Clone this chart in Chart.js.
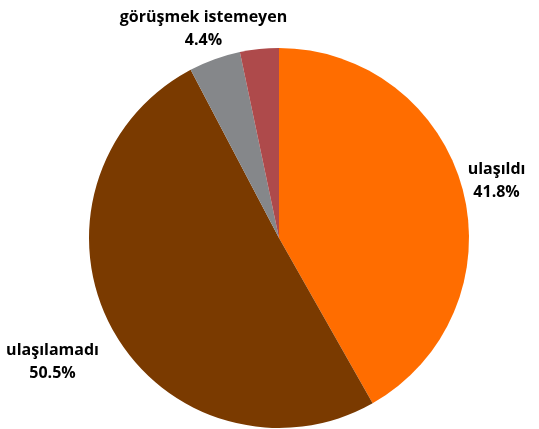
<!DOCTYPE html>
<html>
<head>
<meta charset="utf-8">
<script src="https://cdn.jsdelivr.net/npm/chart.js@4"></script>
<style>
  html, body { margin: 0; padding: 0; background: #fff; }
  #wrap { width: 539px; height: 429px; }
</style>
</head>
<body>
<div id="wrap"><canvas id="pasta" width="539" height="429"></canvas></div>
<script>
const labels = ["ulaşıldı", "ulaşılamadı", "görüşmek istemeyen", ""];
const values = [41.8, 50.5, 4.4, 3.3];
const colors = ["#ff6d00", "#7a3a00", "#85878a", "#ae4a4b"];

// etiketleri dilimin dışına yaz (boş etiketler atlanır)
const outsideLabels = {
  id: "outsideLabels",
  afterDatasetsDraw(chart, args, opts) {
    const ctx = chart.ctx;
    const meta = chart.getDatasetMeta(0);
    ctx.save();
    ctx.font = "bold 16px 'Open Sans', 'Liberation Sans', sans-serif";
    ctx.fillStyle = "#000";
    ctx.textAlign = "center";
    ctx.textBaseline = "middle";
    meta.data.forEach((arc, i) => {
      if (!labels[i]) return;
      const mid = (arc.startAngle + arc.endAngle) / 2;
      const r = arc.outerRadius + opts.extra[i];
      const x = arc.x + Math.cos(mid) * r;
      const y = arc.y + Math.sin(mid) * r;
      ctx.fillText(labels[i], x, y - 11);
      ctx.fillText(values[i].toFixed(1) + "%", x, y + 12);
    });
    ctx.restore();
  }
};

new Chart(document.getElementById("pasta"), {
  type: "pie",
  data: {
    labels: labels,
    datasets: [{
      data: values,
      backgroundColor: colors,
      borderWidth: 0
    }]
  },
  options: {
    responsive: false,
    animation: false,
    layout: { padding: { left: 89, right: 70, top: 48, bottom: 1 } },
    plugins: {
      legend: { display: false },
      tooltip: { enabled: false },
      outsideLabels: { extra: [35, 68, 33, 0] }
    }
  },
  plugins: [outsideLabels]
});
</script>
</body>
</html>
